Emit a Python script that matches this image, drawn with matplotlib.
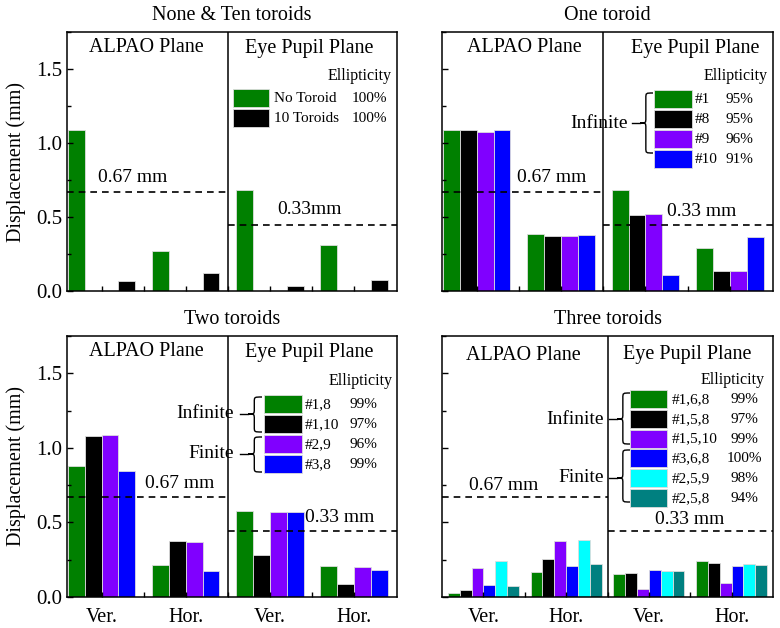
import numpy as np
import matplotlib
matplotlib.use('Agg')
from matplotlib import pyplot as plt
from matplotlib.patches import Rectangle, PathPatch
from matplotlib.path import Path
from matplotlib.ticker import MultipleLocator, FormatStrFormatter

plt.rcParams['font.family'] = ['Liberation Serif', 'DejaVu Serif']

# Data (displacement in mm)
groups = ['Ver.', 'Hor.', 'Ver.', 'Hor.']

none_names = ['No Toroid', '10 Toroids']
none_pct = ['100%', '100%']
none_values = [[1.09, 0.27, 0.684, 0.31],
               [0.07, 0.123, 0.036, 0.074]]

one_names = ['#1', '#8', '#9', '#10']
one_pct = ['95%', '95%', '96%', '91%']
one_values = [[1.087, 0.388, 0.684, 0.291],
              [1.09, 0.370, 0.516, 0.137],
              [1.076, 0.370, 0.522, 0.137],
              [1.087, 0.381, 0.108, 0.363]]

two_names = ['#1,8', '#1,10', '#2,9', '#3,8']
two_pct = ['99%', '97%', '96%', '99%']
two_values = [[0.878, 0.213, 0.579, 0.207],
              [1.080, 0.377, 0.283, 0.090],
              [1.084, 0.370, 0.572, 0.202],
              [0.842, 0.171, 0.568, 0.184]]

three_names = ['#1,6,8', '#1,5,8', '#1,5,10', '#3,6,8', '#2,5,9', '#2,5,8']
three_pct = ['99%', '97%', '99%', '100%', '98%', '94%']
three_values = [[0.029, 0.168, 0.152, 0.242],
                [0.047, 0.258, 0.164, 0.226],
                [0.195, 0.374, 0.054, 0.092],
                [0.083, 0.208, 0.184, 0.206],
                [0.242, 0.383, 0.175, 0.220],
                [0.074, 0.220, 0.175, 0.213]]

alpao_limit = 0.668
eye_limit = 0.444

green, black, violet, blue, cyan, teal = '#008000', '#000000', '#8000FF', '#0000FF', '#00FFFF', '#008080'

W, H = 780, 628
fig = plt.figure(figsize=(W / 100, H / 100), dpi=100)


def fpos(x, y):
    # figure pixel (y down) -> figure fraction
    return x / W, 1 - y / H


def make_axes(x0, y0, x1, y1):
    return fig.add_axes([x0 / W, 1 - y1 / H, (x1 - x0) / W, (y1 - y0) / H])


def ftext(ax, x, y, s, size=14, ha='left', va='center'):
    ax.text(*fpos(x, y), s, transform=fig.transFigure, fontsize=size, ha=ha, va=va)


def brace(ax, xt, ye0, ye1, ym, xe):
    xs = xt + (xe - xt) * 0.45
    r = 5
    pts = [(xe, ye0), (xs, ye0), (xs, ye0), (xs, ye0 + r),
           (xs, ym - r), (xs, ym), (xs, ym), (xt, ym),
           (xs, ym), (xs, ym), (xs, ym + r),
           (xs, ye1 - r), (xs, ye1), (xs, ye1), (xe, ye1)]
    codes = [Path.MOVETO] + [Path.CURVE4] * 3 + [Path.LINETO] + [Path.CURVE4] * 3 + \
            [Path.CURVE4] * 3 + [Path.LINETO] + [Path.CURVE4] * 3
    path = Path([fpos(x, y) for x, y in pts], codes)
    ax.add_patch(PathPatch(path, fill=False, lw=1.0, color='black',
                           transform=fig.transFigure, clip_on=False))
    ax.plot([fpos(xt - 8, ym)[0], fpos(xt, ym)[0]], [fpos(0, ym)[1]] * 2,
            color='black', lw=1.0, transform=fig.transFigure, clip_on=False)


def legend_box(ax, colors, names, pct, x0, x1, ytop, step, xname, xpct, pct_ha='left'):
    for i, (c, n, p) in enumerate(zip(colors, names, pct)):
        y = ytop + i * step
        bx, by = fpos(x0, y + 18)
        ax.add_patch(Rectangle((bx, by), (x1 - x0) / W, 18 / H, facecolor=c,
                               edgecolor='#dddddd', lw=0.6,
                               transform=fig.transFigure, clip_on=False))
        ftext(ax, xname, y + 9.5, n, size=11)
        ftext(ax, xpct, y + 9.5, p, size=11, ha=pct_ha)


def setup(ax, title, xlim, left_labels, bottom_labels, pix):
    x0, y0, x1, y1 = pix
    ax.set_xlim(*xlim)
    ax.set_ylim(0, 1.75)
    ax.yaxis.set_major_locator(MultipleLocator(0.5))
    ax.yaxis.set_minor_locator(MultipleLocator(0.25))
    ax.yaxis.set_major_formatter(FormatStrFormatter('%.1f'))
    ax.set_xticks([0, 1, 2, 3])
    ax.set_xticks([0.5, 1.5, 2.5], minor=True)
    ax.tick_params(which='both', direction='in', top=False, right=False, width=1, labelsize=15)
    ax.tick_params(which='major', axis='y', length=4.5)
    ax.tick_params(which='minor', axis='y', length=3)
    ax.tick_params(which='both', axis='x', length=3.5, pad=8)
    if bottom_labels:
        ax.set_xticklabels(groups, fontsize=14.5)
    else:
        ax.set_xticklabels([])
    if left_labels:
        ax.set_ylabel('Displacement (mm)', fontsize=14.5, labelpad=7)
    else:
        ax.set_yticklabels([])
    for s in ax.spines.values():
        s.set_linewidth(1.1)
    ax.axvline(1.5, color='black', lw=1.1)
    ax.hlines(alpao_limit, xlim[0], 1.5, colors='black', linestyles=(0, (4, 3)), lw=1.2)
    ax.hlines(eye_limit, 1.5, xlim[1], colors='black', linestyles=(0, (4, 3)), lw=1.2)
    ftext(ax, (x0 + x1) / 2, y0 - 17, title, size=14.5, ha='center')


x = np.arange(4)
xl4 = (-0.41, 3.51)
bar_kw = dict(edgecolor='#dddddd', linewidth=0.6)

# None & Ten toroids
pix = (67, 32, 397, 291)
ax = make_axes(*pix)
w = 0.2
ax.bar(x - 1.5 * w, none_values[0], w, color=green, **bar_kw)
ax.bar(x + 1.5 * w, none_values[1], w, color=black, **bar_kw)
setup(ax, 'None & Ten toroids', xl4, True, False, pix)
ftext(ax, 146, 48, 'ALPAO Plane', size=14.5, ha='center')
ftext(ax, 309, 48, 'Eye Pupil Plane', size=14.5, ha='center')
ftext(ax, 392, 76, 'Ellipticity', size=11.5, ha='right')
legend_box(ax, [green, black], none_names, none_pct, 233, 269, 89, 20, 274, 352)
ftext(ax, 98, 177, '0.67 mm')
ftext(ax, 277, 210, '0.33mm')

# One toroid
pix = (442, 32, 773, 291)
ax = make_axes(*pix)
cols4 = [green, black, violet, blue]
for i, vals in enumerate(one_values):
    ax.bar(x + (i - 1.5) * w, vals, w, color=cols4[i], **bar_kw)
setup(ax, 'One toroid', xl4, False, False, pix)
ftext(ax, 524, 48, 'ALPAO Plane', size=14.5, ha='center')
ftext(ax, 695, 48, 'Eye Pupil Plane', size=14.5, ha='center')
ftext(ax, 768, 76, 'Ellipticity', size=11.5, ha='right')
legend_box(ax, cols4, one_names, one_pct, 654, 692, 90, 20, 695, 726)
brace(ax, 640, 93, 153, 123, 653)
ftext(ax, 628, 124, 'Infinite', ha='right')
ftext(ax, 517, 177, '0.67 mm')
ftext(ax, 667, 212, '0.33 mm')

# Two toroids
pix = (67, 336, 397, 597)
ax = make_axes(*pix)
for i, vals in enumerate(two_values):
    ax.bar(x + (i - 1.5) * w, vals, w, color=cols4[i], **bar_kw)
setup(ax, 'Two toroids', xl4, True, True, pix)
ftext(ax, 146, 352, 'ALPAO Plane', size=14.5, ha='center')
ftext(ax, 309, 352, 'Eye Pupil Plane', size=14.5, ha='center')
ftext(ax, 393, 381, 'Ellipticity', size=11.5, ha='right')
legend_box(ax, cols4, two_names, two_pct, 264, 302, 395, 20, 305, 350)
brace(ax, 248, 397, 432, 414, 262)
brace(ax, 248, 437, 472, 454, 262)
ftext(ax, 234, 413, 'Infinite', ha='right')
ftext(ax, 234, 453, 'Finite', ha='right')
ftext(ax, 145, 484, '0.67 mm')
ftext(ax, 305, 517, '0.33 mm')

# Three toroids
pix = (442, 336, 773, 597)
ax = make_axes(*pix)
cols6 = [green, black, violet, blue, cyan, teal]
w6 = 0.86 / 6
for i, vals in enumerate(three_values):
    ax.bar(x + (i - 2.5) * w6, vals, w6, color=cols6[i], **bar_kw)
setup(ax, 'Three toroids', (-0.5, 3.5), False, True, pix)
ftext(ax, 523, 355, 'ALPAO Plane', size=14.5, ha='center')
ftext(ax, 687, 355, 'Eye Pupil Plane', size=14.5, ha='center')
ftext(ax, 765, 380, 'Ellipticity', size=11.5, ha='right')
legend_box(ax, cols6, three_names, three_pct, 630, 667, 390, 19.8, 672, 744.5, pct_ha='center')
brace(ax, 617, 393, 444, 419, 630)
brace(ax, 617, 450, 502, 478, 630)
ftext(ax, 604, 419, 'Infinite', ha='right')
ftext(ax, 604, 478, 'Finite', ha='right')
ftext(ax, 469, 485, '0.67 mm')
ftext(ax, 655, 520, '0.33 mm')

fig.savefig('out.png', dpi=100)
